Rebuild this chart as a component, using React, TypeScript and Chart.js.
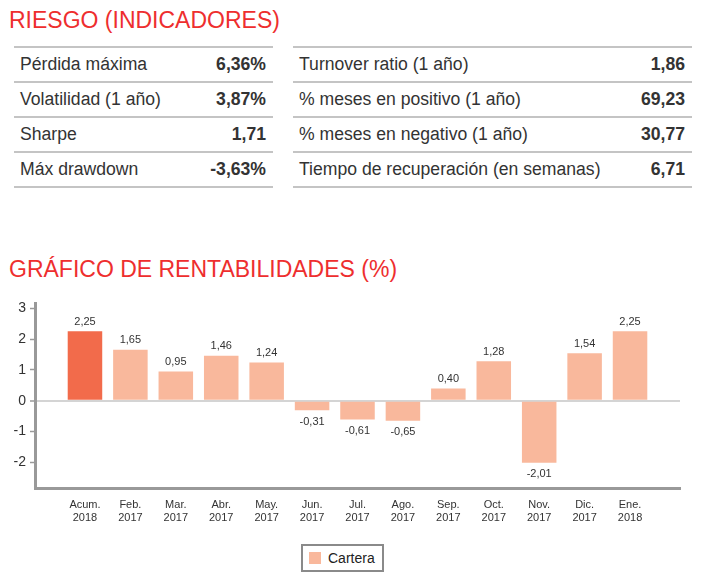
import React, { useEffect, useRef } from "react";
import { Chart, registerables } from "chart.js";

Chart.register(...registerables);

const monthLabels = ["Acum.", "Feb.", "Mar.", "Abr.", "May.", "Jun.", "Jul.", "Ago.", "Sep.", "Oct.", "Nov.", "Dic.", "Ene."];
const yearLabels = ["2018", "2017", "2017", "2017", "2017", "2017", "2017", "2017", "2017", "2017", "2017", "2017", "2018"];
const carteraValues = [2.25, 1.65, 0.95, 1.46, 1.24, -0.31, -0.61, -0.65, 0.4, 1.28, -2.01, 1.54, 2.25];
const yTickValues = [-2, -1, 0, 1, 2, 3];

const riskLeftLabels = ["Pérdida máxima", "Volatilidad (1 año)", "Sharpe", "Máx drawdown"];
const riskLeftValues = ["6,36%", "3,87%", "1,71", "-3,63%"];
const riskRightLabels = ["Turnover ratio (1 año)", "% meses en positivo (1 año)", "% meses en negativo (1 año)", "Tiempo de recuperación (en semanas)"];
const riskRightValues = ["1,86", "69,23", "30,77", "6,71"];

const FONT = '"Liberation Sans", Arial, Helvetica, sans-serif';
const RED = "#ee2e2e";
const DARK = "#f26b4b";
const LIGHT = "#f9b89c";
const TEXT = "#333333";

const fmt = (v: number) => v.toFixed(2).replace(".", ",");

function RiskTable({ left, top, width, labels, values }: any) {
  return (
    <div style={{ position: "absolute", left, top, width }}>
      {labels.map((l: string, i: number) => (
        <div
          key={i}
          style={{
            height: 35,
            borderTop: "2px solid #c4c4c4",
            boxSizing: "border-box",
            display: "flex",
            alignItems: "center",
            justifyContent: "space-between",
            padding: "0 7px 0 6px",
            fontSize: 17.6,
            color: TEXT,
            ...(i === labels.length - 1 ? { borderBottom: "2px solid #c4c4c4", height: 37 } : {}),
          }}
        >
          <span>{l}</span>
          <span style={{ fontWeight: "bold" }}>{values[i]}</span>
        </div>
      ))}
    </div>
  );
}

export default function App() {
  const ref = useRef<HTMLCanvasElement | null>(null);

  useEffect(() => {
    if (!ref.current) return;
    const labelPlugin = {
      id: "barLabels",
      afterDatasetsDraw(chart: any) {
        const ctx = chart.ctx;
        const meta = chart.getDatasetMeta(0);
        ctx.save();
        ctx.font = `11px ${FONT}`;
        ctx.fillStyle = TEXT;
        ctx.textAlign = "center";
        meta.data.forEach((bar: any, i: number) => {
          const v = carteraValues[i];
          if (v >= 0) {
            ctx.textBaseline = "bottom";
            ctx.fillText(fmt(v), bar.x, bar.y - 4);
          } else {
            ctx.textBaseline = "top";
            ctx.fillText(fmt(v), bar.x, bar.y + 6);
          }
        });
        ctx.restore();
      },
    };

    const chart = new Chart(ref.current, {
      type: "bar",
      data: {
        datasets: [
          {
            label: "Cartera",
            data: carteraValues.map((v, i) => ({ x: i, y: v })),
            backgroundColor: carteraValues.map((_, i) => (i === 0 ? DARK : LIGHT)),
            borderWidth: 0,
            barPercentage: 0.76,
            categoryPercentage: 1,
          },
        ],
      },
      options: {
        animation: false,
        responsive: false,
        maintainAspectRatio: false,
        layout: { padding: { top: 13, right: 25, bottom: 0, left: 0 } },
        plugins: { legend: { display: false }, tooltip: { enabled: false } },
        scales: {
          x: {
            type: "linear",
            offset: false,
            min: -1.1,
            max: 13.1,
            afterBuildTicks: (scale: any) => {
              scale.ticks = monthLabels.map((_, i) => ({ value: i }));
            },
            afterFit: (scale: any) => {
              scale.height = 42;
            },
            grid: { display: false, drawTicks: false, offset: false },
            border: { display: true, color: "#999999", width: 3 },
            ticks: {
              autoSkip: false,
              maxRotation: 0,
              padding: 10,
              color: TEXT,
              font: { family: FONT, size: 11, lineHeight: 1.2 },
              callback: (v: any) => {
                const i = Math.round(Number(v));
                return [monthLabels[i], yearLabels[i]];
              },
            },
          },
          y: {
            min: -2.83,
            max: 3.17,
            afterBuildTicks: (scale: any) => {
              scale.ticks = yTickValues.map((v) => ({ value: v }));
            },
            afterFit: (scale: any) => {
              scale.width = 35;
            },
            border: { display: true, color: "#999999", width: 3 },
            grid: {
              drawOnChartArea: true,
              drawTicks: true,
              tickLength: 5,
              tickColor: "#999999",
              tickWidth: 1.5,
              color: (c: any) => (c.tick && c.tick.value === 0 ? "#d4d4d4" : "rgba(0,0,0,0)"),
              lineWidth: (c: any) => (c.tick && c.tick.value === 0 ? 2 : 1),
            },
            ticks: {
              padding: 4,
              color: TEXT,
              font: { family: FONT, size: 14 },
              callback: (v: any) => String(v),
            },
          },
        },
      },
      plugins: [labelPlugin],
    });
    return () => chart.destroy();
  }, []);

  return (
    <div style={{ position: "absolute", left: 0, top: 0, width: 705, height: 588, background: "#fff", fontFamily: FONT, overflow: "hidden" }}>
      <div style={{ position: "absolute", left: 9, top: 6, fontSize: 23, color: RED, lineHeight: "28px", whiteSpace: "nowrap" }}>RIESGO (INDICADORES)</div>
      <RiskTable left={14} top={46} width={259} labels={riskLeftLabels} values={riskLeftValues} />
      <RiskTable left={293} top={46} width={399} labels={riskRightLabels} values={riskRightValues} />
      <div style={{ position: "absolute", left: 9, top: 255, fontSize: 23, color: RED, lineHeight: "28px", whiteSpace: "nowrap" }}>GRÁFICO DE RENTABILIDADES (%)</div>
      <canvas ref={ref} width={705} height={240} style={{ position: "absolute", left: 0, top: 290, width: 705, height: 240 }} />
      <div
        style={{
          position: "absolute",
          left: 301,
          top: 544,
          width: 83,
          height: 28,
          boxSizing: "border-box",
          border: "2px solid #8a8a8a",
          display: "flex",
          alignItems: "center",
          fontSize: 14,
          color: "#222",
        }}
      >
        <span style={{ display: "inline-block", width: 12, height: 12, background: LIGHT, marginLeft: 6, marginRight: 7 }} />
        <span>Cartera</span>
      </div>
    </div>
  );
}
